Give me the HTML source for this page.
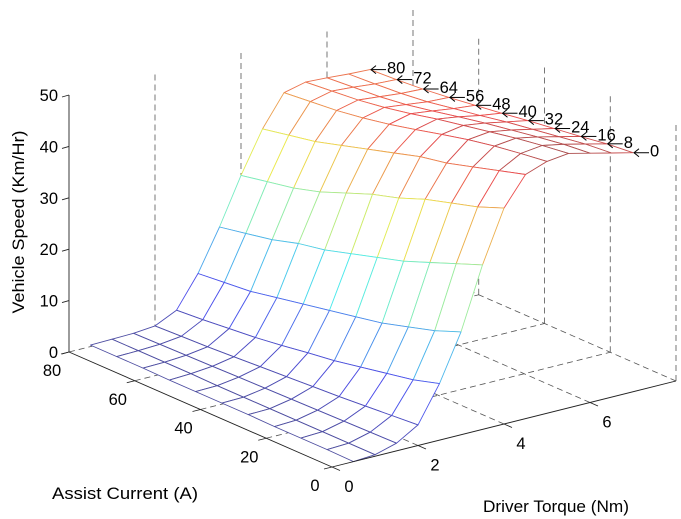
<!DOCTYPE html>
<html><head><meta charset="utf-8"><style>
html,body{margin:0;padding:0;background:#fff;}
svg{display:block;font-family:"Liberation Sans",Arial,sans-serif;}
</style></head><body>
<svg id="chart" width="681" height="519" viewBox="0 0 681 519" xmlns="http://www.w3.org/2000/svg">
<g id="grid"></g>
<g id="surface"></g>
<g id="axes"></g>
<g id="labels" font-size="16.5" fill="#000"></g>
<g id="notes" font-size="16.5"></g>
<text x="0" y="0" font-size="17" text-anchor="middle" transform="translate(24,222) rotate(-90)" textLength="183" lengthAdjust="spacingAndGlyphs">Vehicle Speed (Km/Hr)</text>
<text x="125" y="499" font-size="17" text-anchor="middle" textLength="146" lengthAdjust="spacingAndGlyphs">Assist Current (A)</text>
<text x="556" y="512" font-size="17" text-anchor="middle" textLength="146" lengthAdjust="spacingAndGlyphs">Driver Torque (Nm)</text>
</svg>
<script>
const torque=[0.5,1,1.5,2,2.5,3,3.5,4,4.5,5,5.5,6,6.5,7];
const current=[0,8,16,24,32,40,48,56,64,72,80];
const speed=[
[0.0,0.3,1.5,4.0,11,20,32,42,47.5,49.0,49.5,48.5,47.5,46.5],
[0.1,0.3,1.4,3.6,9.5,18,30,40,46,48.3,48.8,48,47,46],
[0.1,0.3,1.3,3.2,8.5,16.5,28,38.5,44.5,47.5,48,47.2,46.2,45.2],
[0.1,0.3,1.2,2.8,7.5,15,26,37,43,46.5,47,46.3,45.4,44.5],
[0.2,0.3,1.1,2.5,6.5,14,24.5,35,42,45.3,46,45.4,44.6,43.8],
[0.2,0.3,1.0,2.2,5.8,13,23,33.5,40.5,44,45,44.4,43.6,43],
[0.2,0.3,0.9,1.9,5,12,21.5,31.5,39,42.8,43.8,43.3,42.7,42.3],
[0.2,0.4,0.8,1.6,4.3,11,20.5,29.5,37.5,41.8,42.8,42.3,41.8,41.6],
[0.3,0.4,0.7,1.3,3.8,10,19,28,36,41,42,41.6,41.2,41],
[0.3,0.4,0.6,1.1,3.3,9.5,18,27,35,40.5,41.5,41.2,40.8,40.6],
[0.3,0.4,0.5,0.9,2.9,9,17,26,34,40,41,40.8,40.5,40.3]
];
const zTicks=[0,10,20,30,40,50];
const tTicks=[0,2,4,6];
const iTicks=[0,20,40,60,80];
const noteCurrents=[0,8,16,24,32,40,48,56,64,72,80];

const NS="http://www.w3.org/2000/svg";
const O=[332,467], VT=[43,-10.75], VI=[-3.2875,-1.4375], VZ=5.14;
const TMAX=8, IMAX=80, ZMAX=50;
function px(t,i,z){return [O[0]+VT[0]*t+VI[0]*i, O[1]+VT[1]*t+VI[1]*i-VZ*z];}
function mk(parent,tag,attrs){const e=document.createElementNS(NS,tag);for(const k in attrs)e.setAttribute(k,attrs[k]);parent.appendChild(e);return e;}
function line(parent,a,b,style,name){
  const e=mk(parent,'line',{x1:a[0],y1:a[1],x2:b[0],y2:b[1],stroke:style.c,'stroke-width':style.w});
  if(style.d)e.setAttribute('stroke-dasharray',style.d);
  
  
  return e;
}
const dash={c:'#555',w:0.8,d:'6,4'};
const G=document.getElementById('grid');
[2,4,6,8].forEach(t=>line(G,px(t,0,0),px(t,IMAX,0),dash,'floor-grid-torque'));
[20,40,60,80].forEach(i=>line(G,px(0,i,0),px(TMAX,i,0),dash,'floor-grid-current'));
[2,4,6,8].forEach(t=>line(G,px(t,IMAX,0),px(t,IMAX,ZMAX),dash,'back-wall-grid'));
[0,20,40,60].forEach(i=>line(G,px(TMAX,i,0),px(TMAX,i,ZMAX),dash,'side-wall-grid'));

function jet(v){v=Math.max(0,Math.min(1,v));const f=x=>Math.max(0,Math.min(1,1.5-Math.abs(x)));
  return [f(4*v-3),f(4*v-2),f(4*v-1)].map(x=>x*255);}
function soften(m){return 'rgb('+m.map(x=>Math.round(x*0.62+78)).join(',')+')';}

const S=document.getElementById('surface');
const quads=[];
for(let r=0;r<current.length-1;r++)for(let c=0;c<torque.length-1;c++){
  const tm=(torque[c]+torque[c+1])/2, im=(current[r]+current[r+1])/2;
  quads.push({r,c,d:10.75*tm+1.4375*im});
}
quads.sort((a,b)=>b.d-a.d);
quads.forEach(q=>{
  const {r,c}=q;
  const pts=[[c,r],[c+1,r],[c+1,r+1],[c,r+1]].map(([cc,rr])=>px(torque[cc],current[rr],speed[rr][cc]));
  const zavg=(speed[r][c]+speed[r][c+1]+speed[r+1][c]+speed[r+1][c+1])/4;
  const p=mk(S,'polygon',{points:pts.map(p=>p[0].toFixed(1)+','+p[1].toFixed(1)).join(' '),fill:'#fff',stroke:soften(jet(zavg/ZMAX)),'stroke-width':0.9,'stroke-linejoin':'round'});
  
  
});

const A=document.getElementById('axes');
const solid={c:'#222',w:0.9};
line(A,px(0,0,0),px(TMAX,0,0),solid,'torque-axis');
line(A,px(0,0,0),px(0,IMAX,0),solid,'current-axis');
line(A,px(0,IMAX,0),px(0,IMAX,ZMAX),solid,'speed-axis');
const L=document.getElementById('labels');
function txt(parent,x,y,s,anchor,name){const e=mk(parent,'text',{x,y,'text-anchor':anchor});e.textContent=s;
  
  return e;}
zTicks.forEach(z=>{const p=px(0,IMAX,z);line(A,p,[p[0]-7,p[1]+2],solid,'speed-tick');txt(L,p[0]-11,p[1]+6,String(z),'end','speed-tick-label');});
tTicks.forEach(t=>{const p=px(t,0,0);line(A,p,[p[0]+8,p[1]+3.5],solid,'torque-tick');txt(L,p[0]+17,p[1]+25,String(t),'middle','torque-tick-label');});
iTicks.forEach(i=>{const p=px(0,i,0);line(A,p,[p[0]-8,p[1]+2],solid,'current-tick');txt(L,p[0]-17,p[1]+24,String(i),'middle','current-tick-label');});

const N=document.getElementById('notes');
noteCurrents.forEach(i=>{
  const r=current.indexOf(i);const c=torque.length-1;
  const p=px(torque[c],i,speed[r][c]);
  line(N,[p[0]+1,p[1]],[p[0]+16,p[1]],{c:'#000',w:1},'annotation-arrow');
  const h=mk(N,'polyline',{points:(p[0]+6)+','+(p[1]-4)+' '+(p[0]+1)+','+p[1]+' '+(p[0]+6)+','+(p[1]+4),fill:'none',stroke:'#000','stroke-width':1});
  
  
  txt(N,p[0]+17,p[1]+4,String(i),'start','annotation-label');
});
</script>
</body></html>
